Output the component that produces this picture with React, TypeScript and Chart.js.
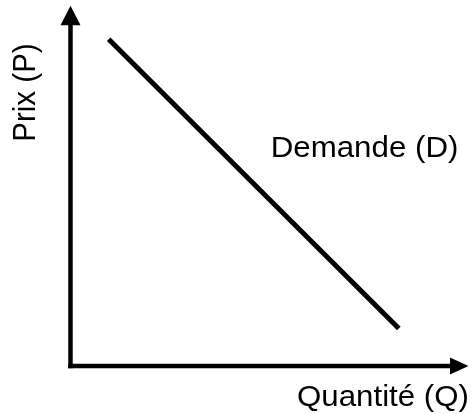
import React, { useEffect, useRef } from "react";
import { Chart, registerables } from "chart.js";

Chart.register(...registerables);

// Data (in abstract quantity / price units on a 0–10 scale)
const axisMin = 0;
const axisMax = 10;
const demandQuantities = [0.96, 8.25];
const demandPrices = [9.07, 1.04];
const xAxisTitle = "Quantité (Q)";
const yAxisTitle = "Prix (P)";
const curveLabel = "Demande (D)";
const curveLabelAt = { q: 5.03, p: 5.79 };
const yTitleCenterP = 7.59;

const FONT = "'Liberation Sans', Arial, Helvetica, sans-serif";
const FONT_SIZE = 29.5;
const H_STRETCH = 1.06;

const axesPlugin = {
  id: "econAxes",
  afterDatasetsDraw(chart: any) {
    const { ctx, scales } = chart;
    const xs = scales.x;
    const ys = scales.y;
    const x0 = xs.getPixelForValue(axisMin);
    const xEnd = xs.getPixelForValue(axisMax);
    const y0 = ys.getPixelForValue(axisMin);
    const yEnd = ys.getPixelForValue(axisMax);
    const lw = 4.5;
    ctx.save();
    ctx.fillStyle = "#000";
    ctx.strokeStyle = "#000";
    ctx.lineWidth = lw;
    ctx.lineCap = "butt";
    // vertical axis
    ctx.beginPath();
    ctx.moveTo(x0, y0 + lw / 2);
    ctx.lineTo(x0, yEnd + 18);
    ctx.stroke();
    // horizontal axis
    ctx.beginPath();
    ctx.moveTo(x0 - lw / 2, y0);
    ctx.lineTo(xEnd - 17, y0);
    ctx.stroke();
    // arrowheads
    ctx.beginPath();
    ctx.moveTo(x0, yEnd);
    ctx.lineTo(x0 - 10, yEnd + 19.5);
    ctx.lineTo(x0 + 10, yEnd + 19.5);
    ctx.closePath();
    ctx.fill();
    ctx.beginPath();
    ctx.moveTo(xEnd, y0);
    ctx.lineTo(xEnd - 18.5, y0 - 8.5);
    ctx.lineTo(xEnd - 18.5, y0 + 8.5);
    ctx.closePath();
    ctx.fill();

    ctx.font = `${FONT_SIZE}px ${FONT}`;
    ctx.textBaseline = "alphabetic";

    // curve label
    ctx.save();
    ctx.translate(xs.getPixelForValue(curveLabelAt.q), ys.getPixelForValue(curveLabelAt.p));
    ctx.scale(H_STRETCH, 1);
    ctx.textAlign = "left";
    ctx.fillText(curveLabel, 0, 0);
    ctx.restore();

    // x axis title
    ctx.save();
    ctx.translate(xEnd + 0.5, y0 + 40);
    ctx.scale(H_STRETCH, 1);
    ctx.textAlign = "right";
    ctx.fillText(xAxisTitle, 0, 0);
    ctx.restore();

    // y axis title
    ctx.save();
    ctx.translate(x0 - 35.5, ys.getPixelForValue(yTitleCenterP));
    ctx.rotate(-Math.PI / 2);
    ctx.scale(1, H_STRETCH);
    ctx.textAlign = "center";
    ctx.fillText(yAxisTitle, 0, 0);
    ctx.restore();

    ctx.restore();
  },
};

export default function App() {
  const canvasRef = useRef<HTMLCanvasElement | null>(null);

  useEffect(() => {
    if (!canvasRef.current) return;
    const chart = new Chart(canvasRef.current, {
      type: "line",
      data: {
        datasets: [
          {
            label: curveLabel,
            data: demandQuantities.map((q, i) => ({ x: q, y: demandPrices[i] })),
            borderColor: "#000",
            borderWidth: 5,
            borderCapStyle: "butt",
            pointRadius: 0,
            fill: false,
            tension: 0,
          },
        ],
      },
      options: {
        animation: false,
        responsive: false,
        devicePixelRatio: 1,
        layout: { padding: { left: 70.5, right: 3.5, top: 5.7, bottom: 48 } },
        plugins: { legend: { display: false }, tooltip: { enabled: false } },
        scales: {
          x: { type: "linear", min: axisMin, max: axisMax, display: false },
          y: { type: "linear", min: axisMin, max: axisMax, display: false },
        },
      },
      plugins: [axesPlugin],
    } as any);
    return () => chart.destroy();
  }, []);

  return (
    <div style={{ position: "fixed", left: 0, top: 0, width: 472, height: 414, background: "#fff" }}>
      <canvas ref={canvasRef} width={472} height={414} style={{ display: "block" }} />
    </div>
  );
}
